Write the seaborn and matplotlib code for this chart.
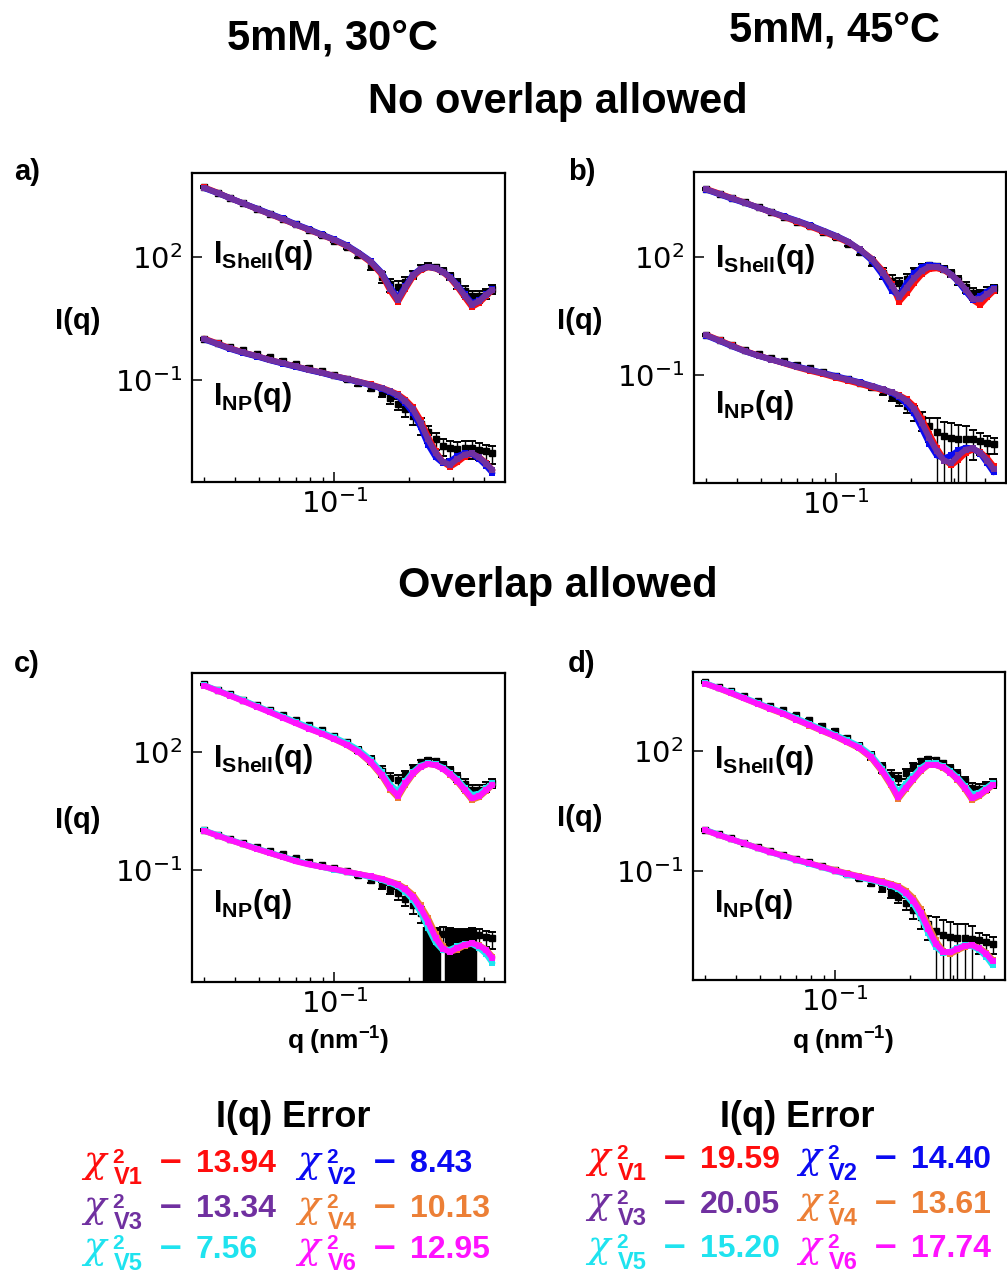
import numpy as np
import matplotlib
matplotlib.use("Agg")
import matplotlib.pyplot as plt
from matplotlib import ticker
import seaborn as sns

# ---------------------------------------------------------------- data
# scattering vector q (nm^-1)
Q = [0.030, 0.034, 0.038, 0.043, 0.049, 0.055, 0.062, 0.070, 0.079, 0.089,
     0.100, 0.112, 0.125, 0.140, 0.155, 0.168, 0.180, 0.193, 0.207, 0.222,
     0.238, 0.255, 0.273, 0.292, 0.312, 0.334, 0.357, 0.382, 0.408, 0.432]

# measured shell intensities, log10 I(q)
SHELL_30C_LOG = [3.70, 3.57, 3.45, 3.32, 3.18, 3.06, 2.93, 2.80, 2.67, 2.54,
                 2.40, 2.24, 2.05, 1.80, 1.52, 1.34, 1.28, 1.40, 1.58, 1.73,
                 1.79, 1.76, 1.67, 1.53, 1.36, 1.18, 1.04, 1.04, 1.12, 1.22]
SHELL_45C_LOG = [3.73, 3.61, 3.50, 3.39, 3.26, 3.14, 3.02, 2.90, 2.78, 2.64,
                 2.50, 2.33, 2.13, 1.88, 1.60, 1.40, 1.33, 1.45, 1.62, 1.75,
                 1.80, 1.77, 1.70, 1.58, 1.42, 1.24, 1.08, 1.05, 1.12, 1.20]
# relative uncertainty of the shell intensities
SHELL_ERR = [0.05, 0.05, 0.05, 0.05, 0.06, 0.06, 0.06, 0.07, 0.08, 0.09,
             0.10, 0.12, 0.16, 0.22, 0.30, 0.35, 0.35, 0.30, 0.22, 0.16,
             0.14, 0.14, 0.16, 0.20, 0.26, 0.32, 0.35, 0.32, 0.28, 0.25]

# nanoparticle intensities, log10 I(q), and relative uncertainties
A_NP_LOG = [0.00, -0.10, -0.19, -0.28, -0.37, -0.45, -0.53, -0.61, -0.70, -0.78,
            -0.88, -0.98, -1.08, -1.20, -1.32, -1.45, -1.58, -1.72, -1.88, -2.08,
            -2.28, -2.45, -2.60, -2.66, -2.68, -2.66, -2.66, -2.70, -2.74, -2.78]
A_NP_ERR = [0.05, 0.05, 0.05, 0.06, 0.06, 0.06, 0.07, 0.07, 0.08, 0.08,
            0.09, 0.10, 0.12, 0.15, 0.20, 0.25, 0.30, 0.35, 0.40, 0.45,
            0.45, 0.45, 0.45, 0.45, 0.45, 0.45, 0.45, 0.45, 0.45, 0.45]
B_NP_LOG = [0.02, -0.11, -0.23, -0.36, -0.47, -0.56, -0.65, -0.74, -0.83, -0.92,
            -1.02, -1.11, -1.20, -1.31, -1.42, -1.53, -1.64, -1.78, -1.95, -2.12,
            -2.30, -2.45, -2.55, -2.60, -2.62, -2.62, -2.64, -2.68, -2.72, -2.76]
B_NP_ERR = [0.05, 0.05, 0.05, 0.06, 0.06, 0.06, 0.07, 0.07, 0.08, 0.08,
            0.09, 0.10, 0.12, 0.15, 0.20, 0.25, 0.30, 0.35, 0.40, 0.50,
            0.60, 1.20, 1.30, 1.40, 1.25, 1.15, 0.70, 0.55, 0.50, 0.45]
C_NP_LOG = [0.02, -0.10, -0.20, -0.30, -0.41, -0.50, -0.59, -0.69, -0.78, -0.86,
            -0.94, -1.02, -1.12, -1.24, -1.36, -1.47, -1.58, -1.72, -1.88, -2.08,
            -2.75, -2.78, -2.60, -2.78, -2.80, -2.80, -2.78, -2.64, -2.68, -2.72]
C_NP_ERR = [0.05, 0.05, 0.05, 0.06, 0.06, 0.06, 0.07, 0.07, 0.08, 0.08,
            0.09, 0.10, 0.12, 0.15, 0.20, 0.25, 0.30, 0.35, 0.40, 0.45,
            1.10, 1.10, 0.45, 1.10, 1.10, 1.10, 1.10, 0.45, 0.45, 0.45]
D_NP_LOG = [0.03, -0.08, -0.18, -0.29, -0.40, -0.50, -0.59, -0.69, -0.78, -0.88,
            -0.98, -1.08, -1.18, -1.30, -1.42, -1.54, -1.66, -1.80, -1.97, -2.15,
            -2.34, -2.50, -2.60, -2.66, -2.68, -2.68, -2.70, -2.74, -2.78, -2.82]
D_NP_ERR = [0.05, 0.05, 0.05, 0.06, 0.06, 0.06, 0.07, 0.07, 0.08, 0.08,
            0.09, 0.10, 0.12, 0.15, 0.20, 0.25, 0.30, 0.35, 0.40, 0.50,
            0.60, 1.20, 1.30, 1.40, 1.30, 1.20, 1.10, 0.55, 0.50, 0.45]

# model fits, log10 I(q) -- no overlap allowed (V1, V2, V3)
A_SHELL_V1 = [3.70, 3.57, 3.44, 3.31, 3.17, 3.05, 2.92, 2.79, 2.66, 2.54,
              2.41, 2.27, 2.09, 1.87, 1.57, 1.17, 0.90, 1.22, 1.52, 1.68,
              1.75, 1.72, 1.63, 1.48, 1.27, 1.02, 0.78, 0.88, 1.05, 1.19]
A_SHELL_V2 = [3.68, 3.56, 3.44, 3.31, 3.18, 3.06, 2.94, 2.80, 2.68, 2.55,
              2.43, 2.29, 2.11, 1.90, 1.62, 1.26, 1.00, 1.29, 1.57, 1.71,
              1.76, 1.73, 1.64, 1.51, 1.32, 1.09, 0.88, 0.94, 1.09, 1.21]
A_SHELL_V3 = [3.69, 3.56, 3.44, 3.31, 3.17, 3.05, 2.93, 2.79, 2.67, 2.54,
              2.42, 2.28, 2.10, 1.89, 1.60, 1.22, 0.95, 1.26, 1.55, 1.70,
              1.76, 1.73, 1.64, 1.50, 1.30, 1.06, 0.84, 0.92, 1.08, 1.20]
A_NP_V1 = [0.01, -0.11, -0.22, -0.33, -0.42, -0.51, -0.59, -0.67, -0.75, -0.82,
           -0.90, -0.97, -1.04, -1.11, -1.19, -1.27, -1.35, -1.48, -1.67, -1.98,
           -2.38, -2.74, -3.00, -3.12, -3.01, -2.87, -2.81, -2.88, -3.03, -3.20]
A_NP_V2 = [-0.01, -0.13, -0.24, -0.34, -0.43, -0.52, -0.60, -0.68, -0.76, -0.83,
           -0.91, -0.98, -1.05, -1.13, -1.21, -1.30, -1.40, -1.57, -1.80, -2.15,
           -2.58, -2.88, -3.03, -2.98, -2.86, -2.79, -2.80, -2.93, -3.10, -3.27]
A_NP_V3 = [0.00, -0.12, -0.23, -0.33, -0.42, -0.51, -0.59, -0.67, -0.75, -0.82,
           -0.90, -0.97, -1.04, -1.12, -1.20, -1.28, -1.37, -1.52, -1.72, -2.05,
           -2.45, -2.78, -3.00, -3.07, -2.93, -2.82, -2.79, -2.89, -3.04, -3.20]

B_SHELL_V1 = [3.73, 3.61, 3.50, 3.38, 3.25, 3.13, 3.01, 2.89, 2.77, 2.64,
              2.51, 2.37, 2.18, 1.95, 1.64, 1.30, 0.86, 1.08, 1.34, 1.56,
              1.69, 1.71, 1.66, 1.54, 1.38, 1.15, 0.90, 0.78, 0.98, 1.13]
B_SHELL_V2 = [3.71, 3.59, 3.48, 3.37, 3.25, 3.14, 3.03, 2.92, 2.80, 2.67,
              2.54, 2.39, 2.18, 1.90, 1.52, 1.14, 1.02, 1.34, 1.58, 1.74,
              1.80, 1.77, 1.69, 1.55, 1.36, 1.12, 0.90, 1.00, 1.12, 1.22]
B_SHELL_V3 = [3.72, 3.60, 3.49, 3.38, 3.25, 3.14, 3.02, 2.91, 2.79, 2.66,
              2.53, 2.39, 2.19, 1.94, 1.60, 1.27, 0.97, 1.22, 1.46, 1.65,
              1.75, 1.74, 1.68, 1.55, 1.38, 1.17, 0.92, 0.92, 1.05, 1.18]
B_NP_V1 = [0.02, -0.12, -0.25, -0.39, -0.51, -0.61, -0.71, -0.81, -0.90, -0.98,
           -1.07, -1.15, -1.23, -1.32, -1.39, -1.45, -1.52, -1.62, -1.80, -2.12,
           -2.50, -2.86, -3.15, -3.30, -3.16, -2.98, -2.90, -2.96, -3.12, -3.32]
B_NP_V2 = [0.00, -0.14, -0.27, -0.40, -0.52, -0.61, -0.70, -0.79, -0.87, -0.95,
           -1.03, -1.11, -1.19, -1.28, -1.37, -1.46, -1.57, -1.74, -1.98, -2.36,
           -2.75, -3.05, -3.12, -3.05, -2.92, -2.85, -2.87, -3.00, -3.25, -3.48]
B_NP_V3 = [0.01, -0.13, -0.26, -0.40, -0.52, -0.61, -0.70, -0.80, -0.88, -0.96,
           -1.05, -1.12, -1.20, -1.29, -1.37, -1.44, -1.53, -1.66, -1.87, -2.22,
           -2.60, -2.94, -3.18, -3.24, -3.05, -2.90, -2.87, -2.98, -3.18, -3.40]

# model fits, log10 I(q) -- overlap allowed (V4, V5, V6)
C_SHELL_V4 = [3.67, 3.54, 3.42, 3.29, 3.14, 3.01, 2.87, 2.73, 2.59, 2.46,
              2.32, 2.17, 1.99, 1.72, 1.39, 1.04, 0.84, 1.16, 1.43, 1.61,
              1.69, 1.66, 1.57, 1.42, 1.24, 1.01, 0.78, 0.85, 1.01, 1.16]
C_SHELL_V5 = [3.68, 3.55, 3.43, 3.30, 3.15, 3.02, 2.89, 2.75, 2.62, 2.49,
              2.36, 2.22, 2.05, 1.80, 1.48, 1.16, 1.00, 1.26, 1.49, 1.65,
              1.71, 1.68, 1.60, 1.46, 1.30, 1.09, 0.91, 0.94, 1.08, 1.20]
C_SHELL_V6 = [3.67, 3.54, 3.42, 3.28, 3.13, 3.00, 2.86, 2.72, 2.58, 2.46,
              2.32, 2.18, 2.00, 1.74, 1.42, 1.08, 0.89, 1.20, 1.45, 1.62,
              1.69, 1.66, 1.57, 1.43, 1.26, 1.04, 0.82, 0.88, 1.03, 1.17]
C_NP_V4 = [0.00, -0.12, -0.23, -0.34, -0.46, -0.56, -0.66, -0.76, -0.84, -0.91,
           -0.97, -1.03, -1.09, -1.15, -1.21, -1.28, -1.34, -1.45, -1.61, -1.88,
           -2.20, -2.60, -2.92, -3.06, -3.00, -2.90, -2.85, -2.89, -3.00, -3.18]
C_NP_V5 = [0.01, -0.11, -0.22, -0.33, -0.45, -0.55, -0.65, -0.75, -0.84, -0.91,
           -0.98, -1.04, -1.10, -1.17, -1.24, -1.32, -1.40, -1.54, -1.74, -2.05,
           -2.45, -2.82, -3.02, -3.00, -2.92, -2.86, -2.86, -2.96, -3.12, -3.34]
C_NP_V6 = [0.00, -0.12, -0.23, -0.34, -0.46, -0.56, -0.66, -0.77, -0.85, -0.91,
           -0.97, -1.03, -1.09, -1.15, -1.22, -1.29, -1.36, -1.48, -1.66, -1.95,
           -2.30, -2.70, -2.98, -3.06, -2.96, -2.88, -2.84, -2.90, -3.02, -3.22]

D_SHELL_V4 = [3.69, 3.57, 3.45, 3.32, 3.18, 3.05, 2.93, 2.78, 2.64, 2.50,
              2.37, 2.22, 2.07, 1.83, 1.48, 1.14, 0.80, 1.04, 1.28, 1.50,
              1.65, 1.65, 1.58, 1.45, 1.28, 1.05, 0.78, 0.87, 1.01, 1.14]
D_SHELL_V5 = [3.70, 3.58, 3.47, 3.34, 3.20, 3.08, 2.96, 2.82, 2.68, 2.54,
              2.41, 2.27, 2.13, 1.90, 1.56, 1.24, 0.98, 1.18, 1.38, 1.58,
              1.70, 1.69, 1.62, 1.50, 1.34, 1.13, 0.92, 0.96, 1.08, 1.19]
D_SHELL_V6 = [3.69, 3.57, 3.46, 3.32, 3.18, 3.06, 2.94, 2.79, 2.65, 2.51,
              2.38, 2.23, 2.09, 1.85, 1.51, 1.18, 0.84, 1.08, 1.30, 1.52,
              1.66, 1.65, 1.59, 1.46, 1.30, 1.08, 0.82, 0.90, 1.03, 1.15]
D_NP_V4 = [0.02, -0.10, -0.20, -0.31, -0.42, -0.52, -0.62, -0.72, -0.81, -0.89,
           -0.98, -1.06, -1.13, -1.20, -1.26, -1.32, -1.38, -1.49, -1.67, -1.96,
           -2.35, -2.74, -3.00, -3.08, -2.99, -2.90, -2.86, -2.92, -3.05, -3.22]
D_NP_V5 = [0.03, -0.09, -0.20, -0.31, -0.43, -0.53, -0.63, -0.73, -0.82, -0.91,
           -1.00, -1.09, -1.16, -1.23, -1.30, -1.37, -1.45, -1.60, -1.82, -2.15,
           -2.56, -2.90, -3.05, -3.02, -2.92, -2.86, -2.88, -2.98, -3.15, -3.36]
D_NP_V6 = [0.02, -0.10, -0.20, -0.31, -0.43, -0.53, -0.62, -0.72, -0.81, -0.90,
           -0.99, -1.07, -1.14, -1.21, -1.28, -1.34, -1.41, -1.54, -1.74, -2.05,
           -2.45, -2.82, -3.02, -3.04, -2.95, -2.88, -2.86, -2.94, -3.08, -3.26]

# goodness of fit per model
MODELS = ["V1", "V2", "V3", "V4", "V5", "V6"]
CHI2_30C = [13.94, 8.43, 13.34, 10.13, 7.56, 12.95]
CHI2_45C = [19.59, 14.40, 20.05, 13.61, 15.20, 17.74]
MODEL_COLORS = ["#ff0d0d", "#0a0af2", "#7030a0", "#ec7f36", "#1fe3ef", "#ff12ff"]

# ---------------------------------------------------------------- style
sns.set_style("ticks")
plt.rcParams["font.family"] = ["DejaVu Sans"]
plt.rcParams.update({
    "mathtext.rm": "Liberation Sans",
    "mathtext.sf": "Liberation Sans",
    "mathtext.bf": "Liberation Sans:bold",
    "mathtext.it": "Liberation Serif:italic",
    "axes.unicode_minus": False,
    "xtick.direction": "in",
    "ytick.direction": "in",
    "text.color": "black",
    "axes.labelcolor": "black",
    "axes.edgecolor": "black",
    "xtick.color": "black",
    "ytick.color": "black",
})
BOLD = dict(family="Liberation Sans", weight="bold")

W, H = 1007, 1275
fig = plt.figure(figsize=(W / 100, H / 100), dpi=100)


def fx(x):
    return x / W


def fy(y):
    return 1 - y / H


def draw_panel(left, top, right, bottom, ylog, shell_log, np_log, np_err,
               shell_fits, np_fits, colors, wide_bar, lab_y):
    ax = fig.add_axes([fx(left), fy(bottom), (right - left) / W, (bottom - top) / H])
    ax.set_xscale("log")
    ax.set_yscale("log")
    q = np.array(Q)

    # measured curves with error bars
    for logi, frac in ((shell_log, SHELL_ERR), (np_log, np_err)):
        inten = 10 ** np.array(logi)
        frac = np.array(frac)
        eb = ax.errorbar(q, inten, yerr=inten * frac, fmt="s", color="black",
                         ms=4, elinewidth=1.0, capsize=3.2, capthick=1.4, zorder=2)
        eb[2][0].set_linewidths(np.where(frac >= 1, wide_bar, 1.0))

    # model fits drawn on top
    for fits in (shell_fits, np_fits):
        for logi, c in zip(fits, colors):
            sns.lineplot(x=q, y=10 ** np.array(logi), ax=ax, color=c,
                         linewidth=4.2, marker="s", markersize=5,
                         markeredgewidth=0, zorder=3)

    ax.set_xlim(0.0268, 0.485)
    ax.set_ylim(10 ** ylog[0], 10 ** ylog[1])
    ax.xaxis.set_major_locator(ticker.FixedLocator([0.1]))
    ax.xaxis.set_minor_locator(ticker.FixedLocator(
        [0.03, 0.04, 0.05, 0.06, 0.07, 0.08, 0.09, 0.2, 0.3, 0.4]))
    ax.xaxis.set_major_formatter(ticker.LogFormatterMathtext())
    ax.xaxis.set_minor_formatter(ticker.NullFormatter())
    ax.yaxis.set_major_locator(ticker.FixedLocator([1e-1, 1e2]))
    ax.yaxis.set_minor_locator(ticker.NullLocator())
    ax.yaxis.set_major_formatter(ticker.LogFormatterMathtext())
    ax.tick_params(which="major", length=7, width=1.1, labelsize=21, colors="black")
    ax.tick_params(axis="y", which="major", pad=7)
    ax.tick_params(axis="x", which="major", pad=5)
    ax.tick_params(which="minor", length=3.5, width=1.0, colors="black")
    ax.tick_params(top=False, right=False, which="both")
    for s in ax.spines.values():
        s.set_linewidth(1.6)
        s.set_color("black")
    ax.set_xlabel("")
    ax.set_ylabel("")

    ax.text(0.067, lab_y[0], r"$\mathbf{I_{Shell}(q)}$", transform=ax.transAxes,
            fontsize=22, math_fontfamily="custom", ha="left", va="baseline", zorder=5)
    ax.text(0.067, lab_y[1], r"$\mathbf{I_{NP}(q)}$", transform=ax.transAxes,
            fontsize=22, math_fontfamily="custom", ha="left", va="baseline", zorder=5)
    return ax


top_colors = MODEL_COLORS[:3]
bot_colors = MODEL_COLORS[3:]

draw_panel(192, 173, 505, 482, (-3.49, 4.05), SHELL_30C_LOG, A_NP_LOG, A_NP_ERR,
           [A_SHELL_V1, A_SHELL_V2, A_SHELL_V3], [A_NP_V1, A_NP_V2, A_NP_V3],
           top_colors, 1.0, (0.709, 0.249))
draw_panel(694, 172, 1006, 483, (-3.75, 4.16), SHELL_45C_LOG, B_NP_LOG, B_NP_ERR,
           [B_SHELL_V1, B_SHELL_V2, B_SHELL_V3], [B_NP_V1, B_NP_V2, B_NP_V3],
           top_colors, 1.0, (0.694, 0.226))
draw_panel(192, 673, 505, 982, (-3.82, 3.99), SHELL_30C_LOG, C_NP_LOG, C_NP_ERR,
           [C_SHELL_V4, C_SHELL_V5, C_SHELL_V6], [C_NP_V4, C_NP_V5, C_NP_V6],
           bot_colors, 7.5, (0.697, 0.2275))
draw_panel(693, 672, 1005, 980, (-3.73, 3.98), SHELL_45C_LOG, D_NP_LOG, D_NP_ERR,
           [D_SHELL_V4, D_SHELL_V5, D_SHELL_V6], [D_NP_V4, D_NP_V5, D_NP_V6],
           bot_colors, 1.0, (0.688, 0.22))

# ---------------------------------------------------------------- annotations
fig.text(fx(332), fy(50), "5mM, 30°C", ha="center", va="baseline", fontsize=30, **BOLD)
fig.text(fx(834), fy(42), "5mM, 45°C", ha="center", va="baseline", fontsize=30, **BOLD)
fig.text(fx(558), fy(113), "No overlap allowed", ha="center", va="baseline", fontsize=30, **BOLD)
fig.text(fx(558), fy(597), "Overlap allowed", ha="center", va="baseline", fontsize=30, **BOLD)

for lab, (x, y) in zip(["a)", "b)", "c)", "d)"],
                       [(27, 172), (582, 172), (27, 664), (582, 664)]):
    fig.text(fx(x), fy(y), lab, ha="center", va="center", fontsize=21, **BOLD)

for x, y in [(78, 321), (580, 321), (78, 820), (580, 818)]:
    fig.text(fx(x), fy(y), "I(q)", ha="center", va="center", fontsize=21, **BOLD)

for x in (338, 843):
    fig.text(fx(x), fy(1050), r"$\mathbf{q\ (nm^{-1})}$", ha="center", va="baseline",
             fontsize=19, math_fontfamily="custom")


# chi-squared summary under each column
def chi_entry(x0, yb, name, val, col):
    fig.text(fx(x0), fy(yb), "\u03c7", ha="left", va="baseline", fontsize=27,
             color=col, family="DejaVu Serif", style="italic")
    fig.text(fx(x0 + 29), fy(yb - 9), "2", ha="left", va="baseline",
             fontsize=15, color=col, **BOLD)
    fig.text(fx(x0 + 31), fy(yb + 12), name, ha="left", va="baseline",
             fontsize=17, color=col, **BOLD)
    fig.text(fx(x0 + 77), fy(yb), "\u2013", ha="left", va="baseline",
             fontsize=28, color=col, **BOLD)
    fig.text(fx(x0 + 113), fy(yb), f"{val:.2f}", ha="left", va="baseline",
             fontsize=23, color=col, **BOLD)


for cx, chi_x, rows, values in ((293, (83, 297), (1172, 1217, 1258), CHI2_30C),
                                (797, (587, 798), (1168, 1213, 1257), CHI2_45C)):
    fig.text(fx(cx), fy(1127), "I(q) Error", ha="center", va="baseline", fontsize=26, **BOLD)
    for i, (name, val, col) in enumerate(zip(MODELS, values, MODEL_COLORS)):
        row, slot = divmod(i, 2)
        chi_entry(chi_x[slot], rows[row], name, val, col)

fig.savefig("out.png", dpi=100)
